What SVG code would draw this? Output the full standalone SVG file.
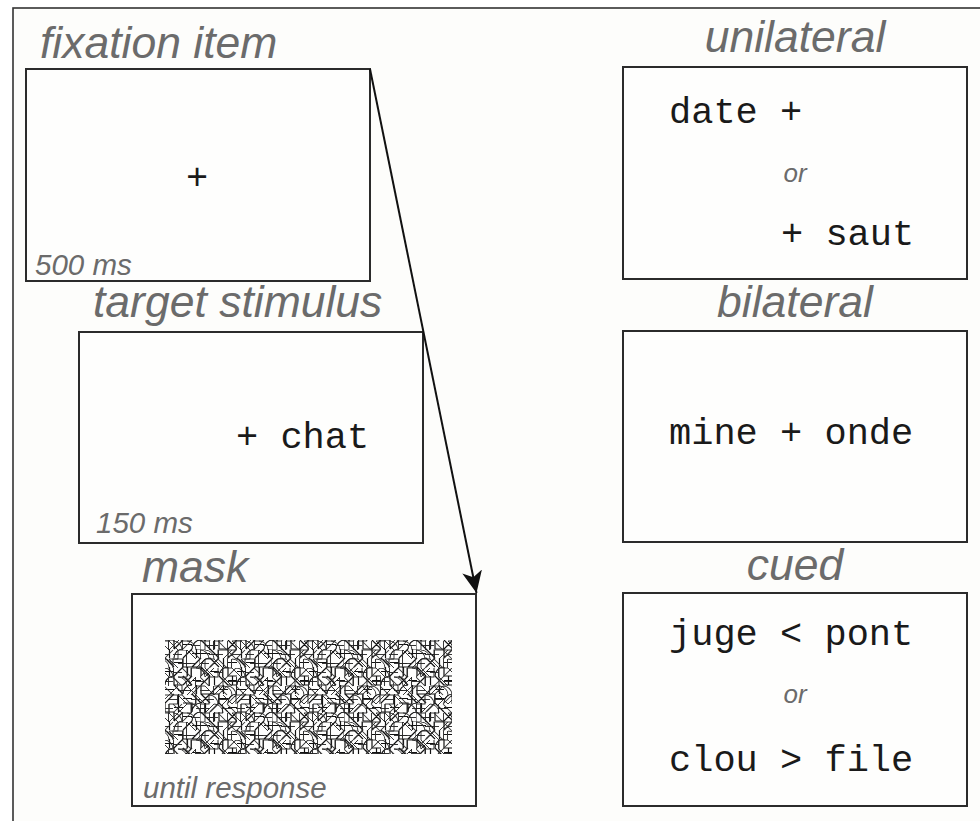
<svg xmlns="http://www.w3.org/2000/svg" xmlns:xlink="http://www.w3.org/1999/xlink" width="980" height="821" viewBox="0 0 980 821">
<style>
.frame{fill:#fdfdfb;stroke:#333;stroke-width:1.6}
.box{fill:#fefefd;stroke:#2b2b2b;stroke-width:2}
.title{font-family:"Liberation Sans",Arial,sans-serif;font-style:italic;font-size:44.5px;fill:#6b6b6b}
.dur{font-family:"Liberation Sans",Arial,sans-serif;font-style:italic;font-size:29.5px;fill:#6b6b6b}
.or{font-family:"Liberation Sans",Arial,sans-serif;font-style:italic;font-size:26px;fill:#6b6b6b;text-anchor:middle}
.mono{font-family:"Liberation Mono","Courier New",monospace;font-size:37px;fill:#1a1a1a;white-space:pre}
.conn{stroke:#111;stroke-width:2;fill:none}
.noise{fill:none;stroke:#111;stroke-width:0.8}
</style>
<defs>
<path id="tile" d="M0,0h6v6M6,6l6,-6M12,3h6M18,6a6,6 0 0 1 6,-6M24,0l6,6M33,0v6M36,0v6h6M42,0l6,6M48,0l-6,6
M3,6v6M6,12a6,6 0 0 1 6,-6M12,12l6,-6M18,9h6M21,6v6M24,9h6M30,6l6,6M36,6h6v6M42,12l6,-6
M0,12l6,6M6,15h6M12,12v6h6M18,18l6,-6M24,18a6,6 0 0 1 6,-6M30,12l6,6M36,12l-6,6M39,12v6M42,15h6
M0,21h6M3,18v6M6,24l6,-6M15,18v6M18,18h6v6M24,18l6,6M30,21h6M36,24a6,6 0 0 1 6,-6M42,18v6h6
M0,30a6,6 0 0 1 6,-6M6,24v6h6M12,24l6,6M18,24l-6,6M18,27h6M24,30l6,-6M33,24v6M36,24l6,6M42,27h6M45,24v6
M0,33h6M6,30l6,6M12,36a6,6 0 0 1 6,-6M21,30v6M24,30v6h6M30,36l6,-6M36,33h6M39,30v6M42,30h6v6
M0,42l6,-6M9,36v6M12,39h6M18,36l6,6M24,36l6,6M30,36l-6,6M30,36h6v6M36,39h6M42,42a6,6 0 0 1 6,-6
M0,42v6h6M6,45h6M9,42v6M12,42h6v6M18,48a6,6 0 0 1 6,-6M27,42v6M30,48l6,-6M36,42l6,6M42,45h6"/>
<pattern id="n1" patternUnits="userSpaceOnUse" width="48" height="48" patternTransform="translate(165,640) scale(1.5)">
<use href="#tile" class="noise"/>
</pattern>
<pattern id="n2" patternUnits="userSpaceOnUse" width="48" height="48" patternTransform="translate(200,668) scale(-1.5,1.5)">
<use href="#tile" class="noise" style="stroke:#333;stroke-width:0.7"/>
</pattern>
<pattern id="n3" patternUnits="userSpaceOnUse" width="48" height="48" patternTransform="translate(178,650) rotate(90) scale(1.5)">
<use href="#tile" class="noise" style="stroke:#222;stroke-width:0.6"/>
</pattern>
<marker id="ah" markerUnits="userSpaceOnUse" markerWidth="24" markerHeight="24" refX="22" refY="10" orient="auto" viewBox="0 0 24 20">
<path d="M22,10 L0,0 L6,10 L0,20 Z" fill="#111"/>
</marker>
</defs>

<rect x="13" y="8" width="990" height="840" class="frame"/>

<g id="fixation">
<text class="title" x="40" y="58">fixation item</text>
<rect class="box" x="26" y="69" width="344" height="212"/>
<text class="mono" x="197" y="189" text-anchor="middle">+</text>
<text class="dur" x="35" y="275">500 ms</text>
</g>

<g id="target">
<text class="title" x="93" y="317">target stimulus</text>
<rect class="box" x="79" y="332" width="344" height="211"/>
<text class="mono" x="236" y="448">+ chat</text>
<text class="dur" x="96" y="533">150 ms</text>
</g>

<g id="mask">
<text class="title" x="142" y="582">mask</text>
<rect class="box" x="132" y="594" width="344" height="212"/>
<rect x="165" y="640" width="287" height="114" fill="url(#n1)"/>
<rect x="165" y="640" width="287" height="114" fill="url(#n2)"/>
<rect x="165" y="640" width="287" height="114" fill="url(#n3)"/>
<text class="dur" x="143" y="798">until response</text>
</g>

<g id="unilateral">
<text class="title" x="795" y="52" text-anchor="middle">unilateral</text>
<rect class="box" x="623" y="67" width="344" height="212"/>
<text class="mono" x="669" y="123">date +</text>
<text class="or" x="795" y="182">or</text>
<text class="mono" x="781" y="245">+ saut</text>
</g>

<g id="bilateral">
<text class="title" x="795" y="317" text-anchor="middle">bilateral</text>
<rect class="box" x="623" y="331" width="344" height="211"/>
<text class="mono" x="669" y="444">mine + onde</text>
</g>

<g id="cued">
<text class="title" x="795" y="580" text-anchor="middle">cued</text>
<rect class="box" x="623" y="593" width="344" height="213"/>
<text class="mono" x="669" y="645">juge &lt; pont</text>
<text class="or" x="795" y="703">or</text>
<text class="mono" x="669" y="771">clou &gt; file</text>
</g>

<g id="connectors">
<line class="conn" x1="370" y1="69" x2="476.5" y2="593" marker-end="url(#ah)"/>
</g>
</svg>
